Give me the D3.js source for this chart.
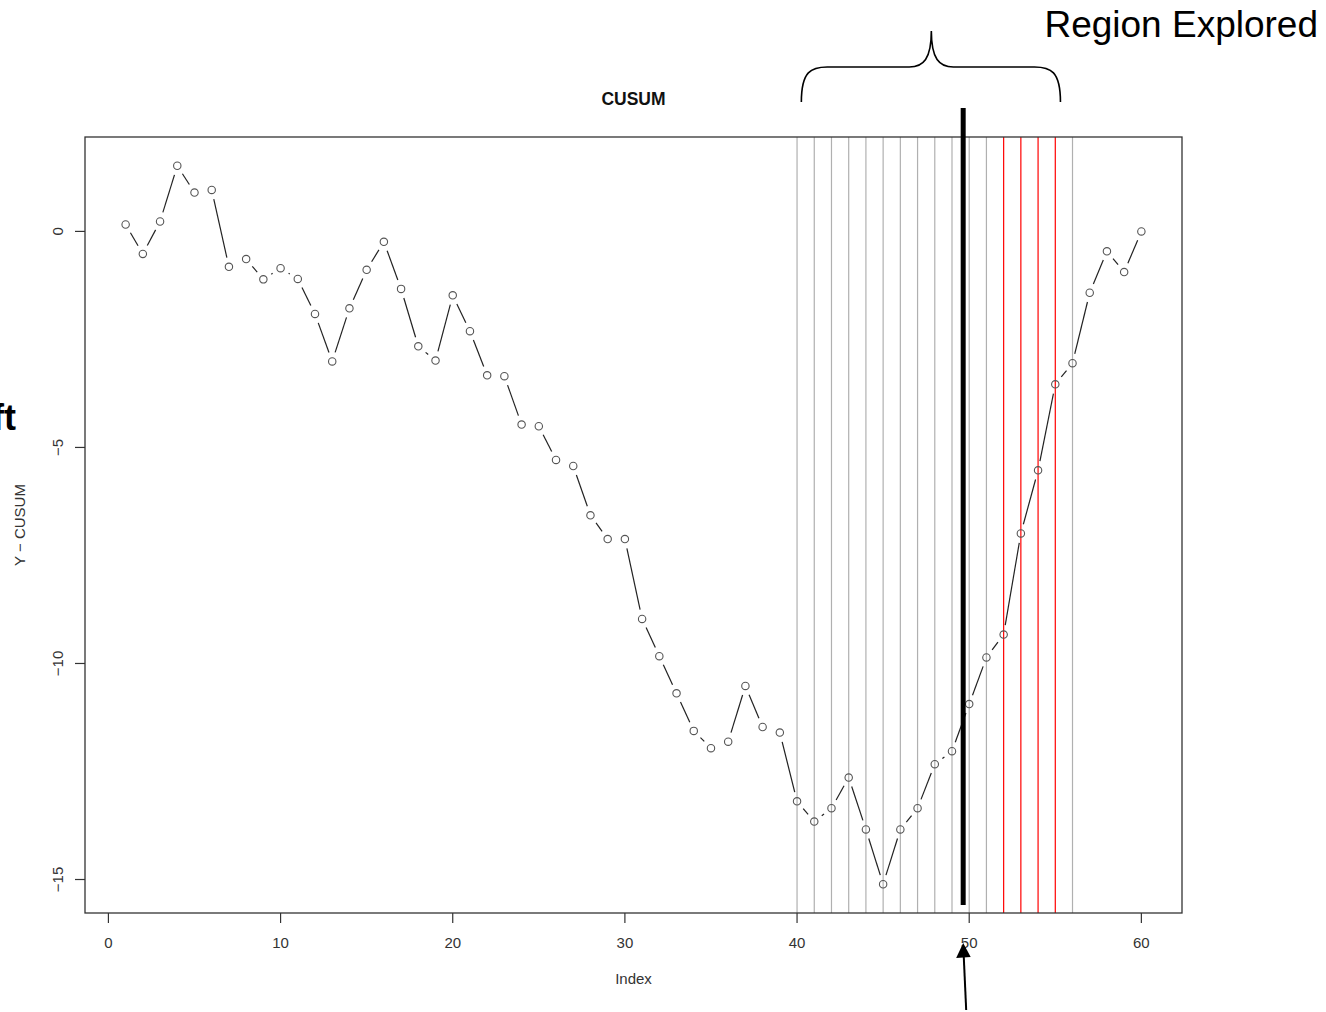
<!DOCTYPE html>
<html>
<head>
<meta charset="utf-8">
<script src="https://cdn.jsdelivr.net/npm/d3@7"></script>
<style>
  html, body { margin: 0; padding: 0; background: #fff; }
  svg { display: block; font-family: "Liberation Sans", Arial, sans-serif; }
</style>
</head>
<body>
<svg id="chart" width="1326" height="1012"></svg>
<script>
// CUSUM of the series, one value per index 1..60
const cusum = [
  0.16, -0.52, 0.23, 1.52, 0.90, 0.96, -0.82, -0.64, -1.11, -0.85,
  -1.10, -1.91, -3.01, -1.78, -0.89, -0.24, -1.33, -2.66, -2.99, -1.48,
  -2.31, -3.33, -3.35, -4.47, -4.51, -5.29, -5.43, -6.57, -7.12, -7.12,
  -8.97, -9.83, -10.69, -11.56, -11.96, -11.81, -10.52, -11.47, -11.60, -13.19,
  -13.66, -13.35, -12.64, -13.84, -15.11, -13.84, -13.35, -12.33, -12.03, -10.94,
  -9.86, -9.33, -6.99, -5.53, -3.54, -3.05, -1.42, -0.46, -0.94, 0.00
];
const index = cusum.map((_, i) => i + 1);

// Candidate split points scanned (grey) and the ones flagged (red)
const scanned = [40, 41, 42, 43, 44, 45, 46, 47, 48, 49, 50, 51, 56];
const flagged = [52, 53, 54, 55];
// Estimated change point
const changePoint = 49.65;
// Span covered by the "Region Explored" brace
const braceSpan = [40.25, 47.8, 55.3];

const xTicks = [0, 10, 20, 30, 40, 50, 60];
const yTicks = [0, -5, -10, -15];

(function draw() {
  const svg = d3.select("#chart");
  const pl = 85, pr = 1182, pt = 137, pb = 913;

  // R-style 4% padding around the data range
  const pad = (lo, hi) => [lo - (hi - lo) * 0.04, hi + (hi - lo) * 0.04];
  const xDom = pad(d3.min(index), d3.max(index));
  const yDom = pad(d3.min(cusum), d3.max(cusum));

  const x = d3.scaleLinear().domain(xDom).range([pl, pr]);
  const y = d3.scaleLinear().domain(yDom).range([pb, pt]);

  // Vertical scan lines
  svg.append("g").selectAll("line").data(scanned).join("line")
    .attr("x1", d => x(d)).attr("x2", d => x(d))
    .attr("y1", pt).attr("y2", pb)
    .attr("stroke", "#b0b0b0").attr("stroke-width", 1.2);
  svg.append("g").selectAll("line").data(flagged).join("line")
    .attr("x1", d => x(d)).attr("x2", d => x(d))
    .attr("y1", pt).attr("y2", pb)
    .attr("stroke", "#ff0000").attr("stroke-width", 1.2);

  // Line segments between points, leaving a gap around each marker
  const gap = 9.5;
  const pts = index.map((d, i) => [x(d), y(cusum[i])]);
  const segs = [];
  for (let i = 0; i < pts.length - 1; i++) {
    const [x0, y0] = pts[i], [x1, y1] = pts[i + 1];
    const len = Math.hypot(x1 - x0, y1 - y0);
    if (len <= 2 * gap) continue;
    const ux = (x1 - x0) / len, uy = (y1 - y0) / len;
    segs.push([x0 + ux * gap, y0 + uy * gap, x1 - ux * gap, y1 - uy * gap]);
  }
  svg.append("g").selectAll("line").data(segs).join("line")
    .attr("x1", d => d[0]).attr("y1", d => d[1])
    .attr("x2", d => d[2]).attr("y2", d => d[3])
    .attr("stroke", "#222").attr("stroke-width", 1.2);

  // Open circle markers
  svg.append("g").selectAll("circle").data(pts).join("circle")
    .attr("cx", d => d[0]).attr("cy", d => d[1]).attr("r", 3.7)
    .attr("fill", "none").attr("stroke", "#555").attr("stroke-width", 1.1);

  // Plot frame
  svg.append("rect")
    .attr("x", pl).attr("y", pt)
    .attr("width", pr - pl).attr("height", pb - pt)
    .attr("fill", "none").attr("stroke", "#333").attr("stroke-width", 1.3);

  // X axis
  const xAxis = svg.append("g");
  xAxis.selectAll(".tk").data(xTicks).join("line").attr("class", "tk")
    .attr("x1", d => x(d)).attr("x2", d => x(d))
    .attr("y1", pb).attr("y2", pb + 10)
    .attr("stroke", "#333").attr("stroke-width", 1.2);
  xAxis.selectAll("text").data(xTicks).join("text")
    .attr("x", d => x(d)).attr("y", pb + 35)
    .attr("text-anchor", "middle").attr("font-size", 15).attr("fill", "#333")
    .text(d => d);

  // Y axis
  const yAxis = svg.append("g");
  yAxis.selectAll(".tk").data(yTicks).join("line").attr("class", "tk")
    .attr("x1", pl - 10).attr("x2", pl)
    .attr("y1", d => y(d)).attr("y2", d => y(d))
    .attr("stroke", "#333").attr("stroke-width", 1.2);
  yAxis.selectAll("text").data(yTicks).join("text")
    .attr("transform", d => `translate(${pl - 22},${y(d)}) rotate(-90)`)
    .attr("text-anchor", "middle").attr("font-size", 15).attr("fill", "#333")
    .text(d => d === 0 ? "0" : "\u2212" + Math.abs(d));

  // Titles
  svg.append("text").attr("x", (pl + pr) / 2).attr("y", 105)
    .attr("text-anchor", "middle").attr("font-size", 17.5).attr("font-weight", "bold")
    .attr("fill", "#111").text("CUSUM");
  svg.append("text").attr("x", (pl + pr) / 2).attr("y", 984)
    .attr("text-anchor", "middle").attr("font-size", 15).attr("fill", "#333")
    .text("Index");
  svg.append("text")
    .attr("transform", `translate(25,${(pt + pb) / 2}) rotate(-90)`)
    .attr("text-anchor", "middle").attr("font-size", 15).attr("fill", "#333")
    .text("Y \u2212 CUSUM");

  // Estimated change point marker
  svg.append("line")
    .attr("x1", x(changePoint)).attr("x2", x(changePoint))
    .attr("y1", y(yDom[1]) - 29).attr("y2", y(yDom[0]) - 8)
    .attr("stroke", "#000").attr("stroke-width", 5);

  // Arrow pointing up at the change point
  const ax = x(changePoint);
  svg.append("line")
    .attr("x1", ax + 3).attr("y1", 1010)
    .attr("x2", ax + 0.5).attr("y2", 955)
    .attr("stroke", "#000").attr("stroke-width", 2);
  svg.append("path")
    .attr("d", `M${ax},943 L${ax - 7},958 L${ax + 7.5},957 Z`)
    .attr("fill", "#000");

  // Brace over the explored region
  const [b0, bm, b1] = braceSpan.map(x);
  const by0 = 102, byh = 67, byp = 31;
  svg.append("path")
    .attr("d",
      `M${b0},${by0} C${b0},${byh + 4} ${b0 + 10},${byh} ${b0 + 26},${byh}` +
      ` L${bm - 22},${byh} C${bm - 8},${byh} ${bm},${byh - 8} ${bm},${byp}` +
      ` C${bm},${byh - 8} ${bm + 8},${byh} ${bm + 22},${byh}` +
      ` L${b1 - 26},${byh} C${b1 - 10},${byh} ${b1},${byh + 4} ${b1},${by0}`)
    .attr("fill", "none").attr("stroke", "#000").attr("stroke-width", 1.6);

  svg.append("text").attr("x", 1318).attr("y", 37)
    .attr("text-anchor", "end").attr("font-size", 37).attr("fill", "#000")
    .text("Region Explored");

  // Side label, partly outside the page
  svg.append("text").attr("x", 16).attr("y", 430)
    .attr("text-anchor", "end").attr("font-size", 36).attr("font-weight", "bold")
    .attr("fill", "#000").text("Shift");
})();
</script>
</body>
</html>
